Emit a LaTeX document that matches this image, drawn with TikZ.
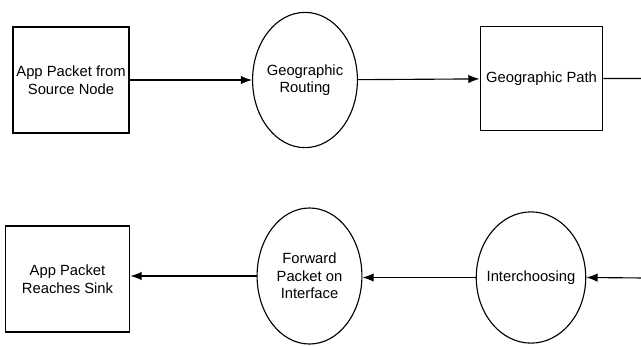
\documentclass[tikz,border=0pt]{standalone}
\usepackage{fontspec}
\setmainfont{Liberation Sans}
\usetikzlibrary{arrows.meta,shapes.geometric}
\tikzset{
  stepbox/.style={draw, line width=0.8pt, align=center, inner sep=1pt},
  stepoval/.style={draw, ellipse, line width=0.8pt, align=center, inner xsep=-4pt, inner ysep=0pt},
  flow/.style={line width=0.8pt, -{Latex[length=8pt,width=6pt]}},
}

\begin{document}
\begin{tikzpicture}[x=0.025cm, y=-0.025cm, font=\fontsize{10.5}{12.5}\selectfont]
  \useasboundingbox (0, 0) rectangle (641, 345);

  % top row
  \node [stepbox, minimum width=2.9cm, minimum height=2.65cm] (src) at (71, 80){App Packet from\\Source Node};
  \node [stepoval, minimum width=2.62cm, minimum height=3.38cm] (route) at (305, 80){Geographic\\Routing};
  \node [stepbox, minimum width=3.07cm, minimum height=2.62cm] (path) at (541.5, 78.5){Geographic Path};

  % bottom row
  \node [stepoval, minimum width=2.7cm, minimum height=3.28cm] (choose) at (531, 277.5){Interchoosing};
  \node [stepoval, minimum width=2.62cm, minimum height=3.4cm] (fwd) at (309.5, 276){Forward\\Packet on\\Interface};
  \node [stepbox, minimum width=3.12cm, minimum height=2.65cm] (sink) at (67.5, 279){App Packet\\Reaches Sink};

  % turn at the right edge
  \coordinate (pathout) at (646, 78.5);
  \coordinate (choosein) at (646, 278);

  % connectors
  \draw [flow] (src) -- (route);
  \draw [flow] (route) -- (path);
  \draw [flow] (path.east) -- (pathout) -- (choosein) -- (choose.east);
  \draw [flow] (choose.west) -- (choose.west -| fwd.east);
  \draw [flow] (fwd.west) -- (fwd.west -| sink.east);
\end{tikzpicture}
\end{document}
